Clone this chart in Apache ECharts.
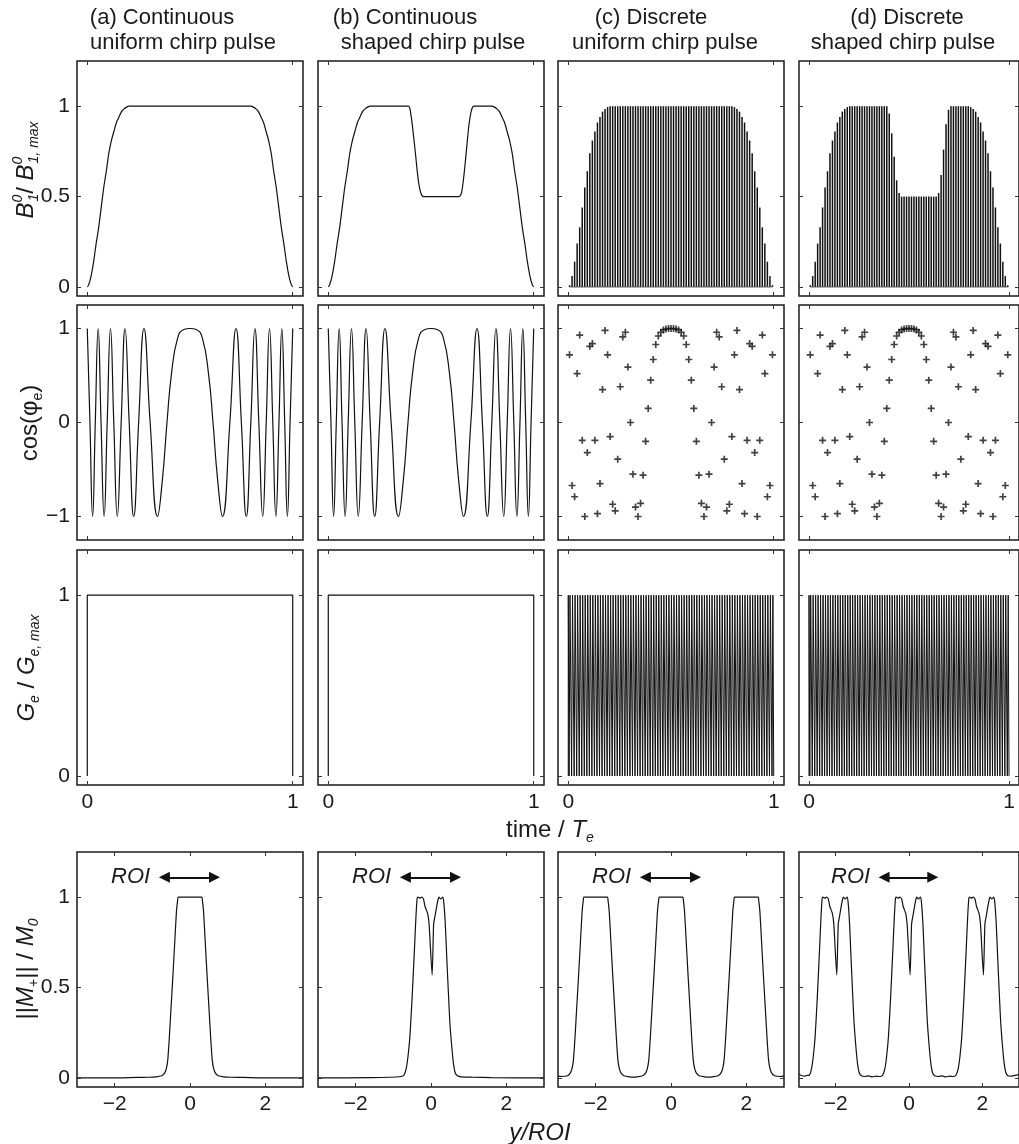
<!DOCTYPE html>
<html>
<head>
<meta charset="utf-8">
<title>Chirp pulses</title>
<script src="https://cdn.jsdelivr.net/npm/echarts@6.0.0/dist/echarts.min.js"></script>
<style>
html,body{margin:0;padding:0;background:#fff;}
#chart{width:1019px;height:1144px;}
</style>
</head>
<body>
<div id="chart"></div>
<script>
// ================= DATA =================
const columnTitles = [
  ['(a) Continuous', 'uniform chirp pulse'],
  ['(b) Continuous', 'shaped chirp pulse'],
  ['(c) Discrete', 'uniform chirp pulse'],
  ['(d) Discrete', 'shaped chirp pulse']
];
const timeTickValues = [0, 1];
const b1TickValues = [0, 0.5, 1];
const cosTickValues = [-1, 0, 1];
const gradTickValues = [0, 1];
const positionTickValues = [-2, 0, 2];
const magTickValues = [0, 0.5, 1];

// centres of the discrete sub-pulses (time / Te)
const subpulseTimes = [
  0.0062, 0.0185, 0.0309, 0.0432, 0.0556, 0.0679, 0.0802, 0.0926, 0.1049, 0.1173,
  0.1296, 0.142, 0.1543, 0.1667, 0.179, 0.1914, 0.2037, 0.216, 0.2284, 0.2407,
  0.2531, 0.2654, 0.2778, 0.2901, 0.3025, 0.3148, 0.3272, 0.3395, 0.3519, 0.3642,
  0.3765, 0.3889, 0.4012, 0.4136, 0.4259, 0.4383, 0.4506, 0.463, 0.4753, 0.4877,
  0.5, 0.5123, 0.5247, 0.537, 0.5494, 0.5617, 0.5741, 0.5864, 0.5988, 0.6111,
  0.6235, 0.6358, 0.6481, 0.6605, 0.6728, 0.6852, 0.6975, 0.7099, 0.7222, 0.7346,
  0.7469, 0.7593, 0.7716, 0.784, 0.7963, 0.8086, 0.821, 0.8333, 0.8457, 0.858,
  0.8704, 0.8827, 0.8951, 0.9074, 0.9198, 0.9321, 0.9444, 0.9568, 0.9691, 0.9815,
  0.9938
];
// stem heights, discrete uniform pulse (c)
const b1UniformDiscrete = [
  0.01, 0.06, 0.14, 0.24, 0.33, 0.44, 0.55, 0.64, 0.74, 0.81,
  0.86, 0.91, 0.94, 0.97, 0.985, 0.995, 1, 1, 1, 1,
  1, 1, 1, 1, 1, 1, 1, 1, 1, 1,
  1, 1, 1, 1, 1, 1, 1, 1, 1, 1,
  1, 1, 1, 1, 1, 1, 1, 1, 1, 1,
  1, 1, 1, 1, 1, 1, 1, 1, 1, 1,
  1, 1, 1, 1, 1, 0.995, 0.985, 0.97, 0.94, 0.91,
  0.86, 0.81, 0.74, 0.64, 0.55, 0.44, 0.33, 0.24, 0.14, 0.06,
  0.01
];
// stem heights, discrete shaped pulse (d)
const b1ShapedDiscrete = [
  0.01, 0.06, 0.14, 0.24, 0.33, 0.44, 0.55, 0.64, 0.74, 0.81,
  0.86, 0.91, 0.94, 0.97, 0.985, 0.995, 1, 1, 1, 1,
  1, 1, 1, 1, 1, 1, 1, 1, 1, 1,
  1, 1, 0.96, 0.85, 0.72, 0.59, 0.52, 0.5, 0.5, 0.5,
  0.5, 0.5, 0.5, 0.5, 0.5, 0.5, 0.5, 0.5, 0.5, 0.5,
  0.5, 0.5, 0.52, 0.62, 0.76, 0.9, 0.98, 1, 1, 1,
  1, 1, 1, 1, 1, 0.995, 0.985, 0.97, 0.94, 0.91,
  0.86, 0.81, 0.74, 0.64, 0.55, 0.44, 0.33, 0.24, 0.14, 0.06,
  0.01
];
const b1UniformContinuous = [
  [0, 0], [0.0062, 0.01], [0.0185, 0.06], [0.0309, 0.14], [0.0432, 0.24], [0.0556, 0.33],
  [0.0679, 0.44], [0.0802, 0.55], [0.0926, 0.64], [0.1049, 0.74], [0.1173, 0.81], [0.1296, 0.86],
  [0.142, 0.91], [0.1543, 0.94], [0.1667, 0.97], [0.179, 0.985], [0.1914, 0.995], [0.2037, 1],
  [0.7963, 1], [0.8086, 0.995], [0.821, 0.985], [0.8333, 0.97], [0.8457, 0.94], [0.858, 0.91],
  [0.8704, 0.86], [0.8827, 0.81], [0.8951, 0.74], [0.9074, 0.64], [0.9198, 0.55], [0.9321, 0.44],
  [0.9444, 0.33], [0.9568, 0.24], [0.9691, 0.14], [0.9815, 0.06], [0.9938, 0.01], [1, 0]
];
const b1ShapedContinuous = [
  [0, 0], [0.0062, 0.01], [0.0185, 0.06], [0.0309, 0.14], [0.0432, 0.24], [0.0556, 0.33],
  [0.0679, 0.44], [0.0802, 0.55], [0.0926, 0.64], [0.1049, 0.74], [0.1173, 0.81], [0.1296, 0.86],
  [0.142, 0.91], [0.1543, 0.94], [0.1667, 0.97], [0.179, 0.985], [0.1914, 0.995], [0.2037, 1],
  [0.3889, 1], [0.4012, 0.96], [0.4136, 0.85], [0.4259, 0.72], [0.4383, 0.59], [0.4506, 0.52],
  [0.463, 0.5], [0.6358, 0.5], [0.6481, 0.52], [0.6605, 0.62], [0.6728, 0.76], [0.6852, 0.9],
  [0.6975, 0.98], [0.7099, 1],
  [0.7963, 1], [0.8086, 0.995], [0.821, 0.985], [0.8333, 0.97], [0.8457, 0.94], [0.858, 0.91],
  [0.8704, 0.86], [0.8827, 0.81], [0.8951, 0.74], [0.9074, 0.64], [0.9198, 0.55], [0.9321, 0.44],
  [0.9444, 0.33], [0.9568, 0.24], [0.9691, 0.14], [0.9815, 0.06], [0.9938, 0.01], [1, 0]
];
// cos(phi_e) of the continuous chirp: extremes, zero crossings and the broad centre lobe
const cosPhaseContinuous = [
  [0, 1], [0.013, 0], [0.026, -1], [0.039, 0], [0.053, 1], [0.067, 0], [0.082, -1], [0.097, 0],
  [0.113, 1], [0.129, 0], [0.146, -1], [0.165, 0], [0.184, 1], [0.204, 0], [0.226, -1], [0.25, 0],
  [0.276, 1], [0.306, 0], [0.342, -1], [0.366, -0.6], [0.388, 0], [0.41, 0.52], [0.44, 0.9],
  [0.47, 0.99], [0.5, 1], [0.53, 0.99], [0.56, 0.9], [0.59, 0.52], [0.612, 0], [0.634, -0.6],
  [0.658, -1], [0.694, 0], [0.724, 1], [0.75, 0], [0.774, -1], [0.796, 0], [0.816, 1], [0.835, 0],
  [0.854, -1], [0.871, 0], [0.887, 1], [0.903, 0], [0.918, -1], [0.933, 0], [0.947, 1], [0.961, 0],
  [0.974, -1], [0.987, 0], [1, 1]
];
// cos(phi_e) sampled at each sub-pulse
const cosPhaseDiscrete = [
  0.72, -0.67, -0.79, 0.52, 0.93, -0.19, -1.0, -0.32, 0.81, 0.84,
  -0.19, -0.97, -0.65, 0.35, 0.98, 0.72, -0.15, -0.87, -0.94, -0.39,
  0.38, 0.91, 0.96, 0.59, 0.0, -0.55, -0.9, -1.0, -0.86, -0.56,
  -0.2, 0.15, 0.45, 0.67, 0.83, 0.92, 0.96, 0.985, 0.995, 1.0,
  1.0, 1.0, 0.995, 0.985, 0.96, 0.92, 0.83, 0.67, 0.45, 0.15,
  -0.2, -0.56, -0.86, -1.0, -0.9, -0.55, 0.0, 0.59, 0.96, 0.91,
  0.38, -0.39, -0.94, -0.87, -0.15, 0.72, 0.98, 0.35, -0.65, -0.97,
  -0.19, 0.84, 0.81, -0.32, -1.0, -0.19, 0.93, 0.52, -0.79, -0.67,
  0.72
];
const gradientContinuous = [[0, 0], [0, 1], [1, 1], [1, 0]];
const gradientGapHalfWidth = 0.0022;

const magUniformContinuous = [
  [-3, 0], [-1.8, 0.001], [-1.4, 0.003], [-1.1, 0.004], [-0.9, 0.006], [-0.75, 0.012], [-0.68, 0.025],
  [-0.63, 0.05], [-0.59, 0.1], [-0.55, 0.22], [-0.5, 0.4], [-0.45, 0.58], [-0.4, 0.77], [-0.36, 0.92],
  [-0.33, 0.98], [-0.31, 1], [0.31, 1], [0.33, 0.98], [0.36, 0.92], [0.4, 0.77], [0.45, 0.58],
  [0.5, 0.4], [0.55, 0.22], [0.59, 0.1], [0.63, 0.05], [0.68, 0.025], [0.75, 0.012], [0.9, 0.006],
  [1.1, 0.004], [1.4, 0.003], [1.8, 0.001], [3, 0]
];
const magShapedContinuous = [
  [-3, 0], [-1.6, 0.002], [-1.1, 0.004], [-0.8, 0.008], [-0.72, 0.015], [-0.66, 0.05], [-0.61, 0.12],
  [-0.56, 0.23], [-0.5, 0.45], [-0.44, 0.71], [-0.4, 0.89], [-0.37, 0.99], [-0.35, 1], [-0.3, 0.995],
  [-0.25, 1], [-0.2, 0.99], [-0.16, 0.95], [-0.09, 0.91], [-0.05, 0.85], [0.03, 0.57], [0.07, 0.85],
  [0.11, 0.9], [0.17, 0.97], [0.21, 1], [0.26, 0.99], [0.31, 1], [0.34, 0.97], [0.38, 0.85],
  [0.42, 0.66], [0.46, 0.48], [0.5, 0.31], [0.54, 0.2], [0.59, 0.09], [0.64, 0.03], [0.7, 0.012],
  [0.8, 0.006], [1.1, 0.004], [1.6, 0.002], [3, 0]
];
const magUniformDiscrete = [
  [-3, 0.01], [-2.9, 0.008], [-2.75, 0.012], [-2.68, 0.025], [-2.63, 0.05], [-2.59, 0.1], [-2.55, 0.22],
  [-2.5, 0.4], [-2.45, 0.58], [-2.4, 0.77], [-2.36, 0.92], [-2.33, 0.98], [-2.31, 1], [-1.69, 1],
  [-1.67, 0.98], [-1.64, 0.92], [-1.6, 0.77], [-1.55, 0.58], [-1.5, 0.4], [-1.45, 0.22], [-1.41, 0.1],
  [-1.37, 0.05], [-1.32, 0.025], [-1.25, 0.012], [-1.1, 0.006], [-1.0, 0.005], [-0.9, 0.006],
  [-0.75, 0.012], [-0.68, 0.025], [-0.63, 0.05], [-0.59, 0.1], [-0.55, 0.22], [-0.5, 0.4], [-0.45, 0.58],
  [-0.4, 0.77], [-0.36, 0.92], [-0.33, 0.98], [-0.31, 1], [0.31, 1], [0.33, 0.98], [0.36, 0.92],
  [0.4, 0.77], [0.45, 0.58], [0.5, 0.4], [0.55, 0.22], [0.59, 0.1], [0.63, 0.05], [0.68, 0.025],
  [0.75, 0.012], [0.9, 0.006], [1.0, 0.005], [1.1, 0.006], [1.25, 0.012], [1.32, 0.025], [1.37, 0.05],
  [1.41, 0.1], [1.45, 0.22], [1.5, 0.4], [1.55, 0.58], [1.6, 0.77], [1.64, 0.92], [1.67, 0.98],
  [1.69, 1], [2.31, 1], [2.33, 0.98], [2.36, 0.92], [2.4, 0.77], [2.45, 0.58], [2.5, 0.4],
  [2.55, 0.22], [2.59, 0.1], [2.63, 0.05], [2.68, 0.025], [2.75, 0.012], [2.9, 0.008], [3, 0.01]
];
const magShapedDiscrete = [
  [-3, 0.02], [-2.92, 0.012], [-2.84, 0.01], [-2.78, 0.014],
  [-2.72, 0.015], [-2.66, 0.05], [-2.61, 0.12], [-2.56, 0.23], [-2.5, 0.45], [-2.44, 0.71], [-2.4, 0.89],
  [-2.37, 0.99], [-2.35, 1], [-2.3, 0.995], [-2.25, 1], [-2.2, 0.99], [-2.16, 0.95], [-2.09, 0.91],
  [-2.05, 0.85], [-1.97, 0.57], [-1.93, 0.85], [-1.89, 0.9], [-1.83, 0.97], [-1.79, 1], [-1.74, 0.99],
  [-1.69, 1], [-1.66, 0.97], [-1.62, 0.85], [-1.58, 0.66], [-1.54, 0.48], [-1.5, 0.31], [-1.46, 0.2],
  [-1.41, 0.09], [-1.36, 0.03], [-1.3, 0.012],
  [-1.2, 0.008], [-1.1, 0.012], [-1.0, 0.006], [-0.9, 0.01], [-0.8, 0.008],
  [-0.72, 0.015], [-0.66, 0.05], [-0.61, 0.12], [-0.56, 0.23], [-0.5, 0.45], [-0.44, 0.71], [-0.4, 0.89],
  [-0.37, 0.99], [-0.35, 1], [-0.3, 0.995], [-0.25, 1], [-0.2, 0.99], [-0.16, 0.95], [-0.09, 0.91],
  [-0.05, 0.85], [0.03, 0.57], [0.07, 0.85], [0.11, 0.9], [0.17, 0.97], [0.21, 1], [0.26, 0.99],
  [0.31, 1], [0.34, 0.97], [0.38, 0.85], [0.42, 0.66], [0.46, 0.48], [0.5, 0.31], [0.54, 0.2],
  [0.59, 0.09], [0.64, 0.03], [0.7, 0.012],
  [0.8, 0.008], [0.9, 0.012], [1.0, 0.006], [1.1, 0.01], [1.2, 0.008],
  [1.28, 0.015], [1.34, 0.05], [1.39, 0.12], [1.44, 0.23], [1.5, 0.45], [1.56, 0.71], [1.6, 0.89],
  [1.63, 0.99], [1.65, 1], [1.7, 0.995], [1.75, 1], [1.8, 0.99], [1.84, 0.95], [1.91, 0.91],
  [1.95, 0.85], [2.03, 0.57], [2.07, 0.85], [2.11, 0.9], [2.17, 0.97], [2.21, 1], [2.26, 0.99],
  [2.31, 1], [2.34, 0.97], [2.38, 0.85], [2.42, 0.66], [2.46, 0.48], [2.5, 0.31], [2.54, 0.2],
  [2.59, 0.09], [2.64, 0.03], [2.7, 0.012],
  [2.8, 0.01], [2.9, 0.014], [3, 0.02]
];
// ROI double arrow (arrow-head centres) and label, in y/ROI units
const roiArrowEnds = [-0.68, 0.65];
const roiLevel = 1.11;
const roiLabelRight = -1.03;

// ================= LAYOUT / STYLE =================
const FONT = "'Liberation Sans', Arial, Helvetica, sans-serif";
const INK = '#111';
const TXT = '#1a1a1a';
const colLeft = [77, 318, 558, 799];
const rowTop = [61, 305, 550, 852];
const PW = 226, PH = 235;
const timeRange = [-0.05, 1.05];
const unitRange = [-0.05, 1.25];
const cosRange = [-1.25, 1.25];
const posRange = [-3, 3];

const grid = [], xAxis = [], yAxis = [], series = [], graphic = [];

function fmtTick(v) { return v < 0 ? '\u2212' + String(-v) : String(v); }

function axis(g, range, ticks, position, showLabel) {
  return {
    type: 'value', gridIndex: g, min: range[0], max: range[1], position: position,
    axisLine: { show: false, onZero: false },
    splitLine: { show: false },
    axisTick: { show: true, inside: true, length: 4, customValues: ticks, lineStyle: { color: '#333', width: 1 } },
    axisLabel: { show: showLabel, customValues: ticks, formatter: fmtTick, fontSize: 21, fontFamily: FONT, color: TXT, margin: 7 },
    z: 6
  };
}

function panel(r, c, xr, xt, yr, yt, xLabels) {
  const g = grid.length;
  grid.push({ left: colLeft[c], top: rowTop[r], width: PW, height: PH, show: true,
    borderColor: '#1a1a1a', borderWidth: 1.5, backgroundColor: 'rgba(0,0,0,0)' });
  xAxis.push(axis(g, xr, xt, 'bottom', xLabels));
  xAxis.push(axis(g, xr, xt, 'top', false));
  yAxis.push(axis(g, yr, yt, 'left', c === 0));
  yAxis.push(axis(g, yr, yt, 'right', false));
  return g;
}

function line(g, data, extra) {
  return Object.assign({ type: 'line', xAxisIndex: 2 * g, yAxisIndex: 2 * g, data: data, symbol: 'none',
    showSymbol: false, lineStyle: { color: INK, width: 1.2 }, silent: true, animation: false }, extra || {});
}

function stems(g, times, values) {
  return {
    type: 'custom', xAxisIndex: 2 * g, yAxisIndex: 2 * g, silent: true, animation: false,
    data: times.map(function (t, i) { return [t, values[i]]; }),
    renderItem: function (params, api) {
      const p0 = api.coord([api.value(0), 0]);
      const p1 = api.coord([api.value(0), api.value(1)]);
      return { type: 'line', shape: { x1: p0[0], y1: p0[1], x2: p1[0], y2: p1[1] },
        style: { stroke: INK, lineWidth: 1.5 } };
    }
  };
}

function squareWave(times, half) {
  const pts = [[0, 0], [0, 1]];
  times.forEach(function (t) { pts.push([t - half, 1], [t - half, 0], [t + half, 0], [t + half, 1]); });
  pts.push([1, 1], [1, 0]);
  return pts;
}

const PLUS = 'path://M-1.2,-5H1.2V-1.2H5V1.2H1.2V5H-1.2V1.2H-5V-1.2H-1.2Z';

// Row 1: B1 envelopes
let g;
g = panel(0, 0, timeRange, timeTickValues, unitRange, b1TickValues, false);
series.push(line(g, b1UniformContinuous, { smooth: 0.3 }));
g = panel(0, 1, timeRange, timeTickValues, unitRange, b1TickValues, false);
series.push(line(g, b1ShapedContinuous, { smooth: 0.3 }));
g = panel(0, 2, timeRange, timeTickValues, unitRange, b1TickValues, false);
series.push(stems(g, subpulseTimes, b1UniformDiscrete));
series.push(line(g, [[subpulseTimes[0], 0], [subpulseTimes[subpulseTimes.length - 1], 0]], { lineStyle: { color: '#555', width: 1 } }));
g = panel(0, 3, timeRange, timeTickValues, unitRange, b1TickValues, false);
series.push(stems(g, subpulseTimes, b1ShapedDiscrete));
series.push(line(g, [[subpulseTimes[0], 0], [subpulseTimes[subpulseTimes.length - 1], 0]], { lineStyle: { color: '#555', width: 1 } }));

// Row 2: cos(phi_e)
for (let c = 0; c < 4; c++) {
  g = panel(1, c, timeRange, timeTickValues, cosRange, cosTickValues, false);
  if (c < 2) {
    series.push(line(g, cosPhaseContinuous, { smooth: 0.5 }));
  } else {
    series.push({ type: 'scatter', xAxisIndex: 2 * g, yAxisIndex: 2 * g, silent: true, animation: false,
      data: subpulseTimes.map(function (t, i) { return [t, cosPhaseDiscrete[i]]; }),
      symbol: PLUS, symbolSize: 7, itemStyle: { color: INK } });
  }
}

// Row 3: gradients
for (let c = 0; c < 4; c++) {
  g = panel(2, c, timeRange, timeTickValues, unitRange, gradTickValues, true);
  if (c < 2) series.push(line(g, gradientContinuous));
  else series.push(line(g, squareWave(subpulseTimes, gradientGapHalfWidth), { lineStyle: { color: INK, width: 1 } }));
}

// Row 4: magnetisation profiles
const magSets = [magUniformContinuous, magShapedContinuous, magUniformDiscrete, magShapedDiscrete];
for (let c = 0; c < 4; c++) {
  g = panel(3, c, posRange, positionTickValues, unitRange, magTickValues, true);
  series.push(line(g, magSets[c], {
    smooth: 0.2,
    markLine: {
      silent: true, animation: false, symbol: ['triangle', 'triangle'], symbolSize: 11,
      label: { show: false }, lineStyle: { color: INK, width: 2, type: 'solid' },
      emphasis: { disabled: true },
      data: [[{ coord: [roiArrowEnds[0], roiLevel] }, { coord: [roiArrowEnds[1], roiLevel] }]]
    },
    markPoint: {
      silent: true, animation: false, symbol: 'circle', symbolSize: 0,
      label: { show: true, position: 'left', distance: 1, formatter: 'ROI', fontSize: 22,
        fontStyle: 'italic', fontFamily: FONT, color: TXT },
      data: [{ coord: [roiLabelRight, roiLevel] }]
    }
  }));
}

// ================= TEXT =================
const RICH = {
  n: { fontSize: 24, fontFamily: FONT, fill: TXT, lineHeight: 30, align: 'left' },
  i: { fontSize: 24, fontFamily: FONT, fontStyle: 'italic', fill: TXT, lineHeight: 30, align: 'left' },
  sup: { fontSize: 14, fontFamily: FONT, fontStyle: 'italic', fill: TXT, verticalAlign: 'top', align: 'left', width: 1 },
  sub: { fontSize: 14, fontFamily: FONT, fontStyle: 'italic', fill: TXT, verticalAlign: 'bottom', align: 'left' },
  subn: { fontSize: 14, fontFamily: FONT, fill: TXT, verticalAlign: 'bottom', align: 'left' }
};
function txt(x, y, text, size, rotation, rich) {
  const style = { text: text, fontSize: size, fontFamily: FONT, fill: TXT, textAlign: 'center', textVerticalAlign: 'middle' };
  if (rich) style.rich = RICH;
  graphic.push({ type: 'text', x: x, y: y, rotation: rotation || 0, silent: true, z: 100, style: style });
}
const titleCenters = [[162, 183], [405, 433], [651, 665], [907, 903]];
columnTitles.forEach(function (t, i) {
  txt(titleCenters[i][0], 18, t[0], 22);
  txt(titleCenters[i][1], 43, t[1], 22);
});
txt(26, 170, '{i|B}{sup|0}{sub|1}{n|/ }{i|B}{sup|0}{sub|1, max}', 24, Math.PI / 2, true);
txt(30, 423, '{n|cos(\u03c6}{subn|e}{n|)}', 24, Math.PI / 2, true);
txt(27, 668, '{i|G}{sub|e}{n| / }{i|G}{sub|e, max}', 24, Math.PI / 2, true);
txt(26, 969, '{n|||}{i|M}{subn|+}{n||| / }{i|M}{sub|0}', 24, Math.PI / 2, true);
txt(550, 830, '{n|time / }{i|T}{sub|e}', 24, 0, true);
txt(540, 1133, '{i|y/ROI}', 24, 0, true);

const chart = echarts.init(document.getElementById('chart'), null, { renderer: 'canvas' });
chart.setOption({
  animation: false,
  backgroundColor: '#fff',
  grid: grid,
  xAxis: xAxis,
  yAxis: yAxis,
  series: series,
  graphic: graphic
});
</script>
</body>
</html>
